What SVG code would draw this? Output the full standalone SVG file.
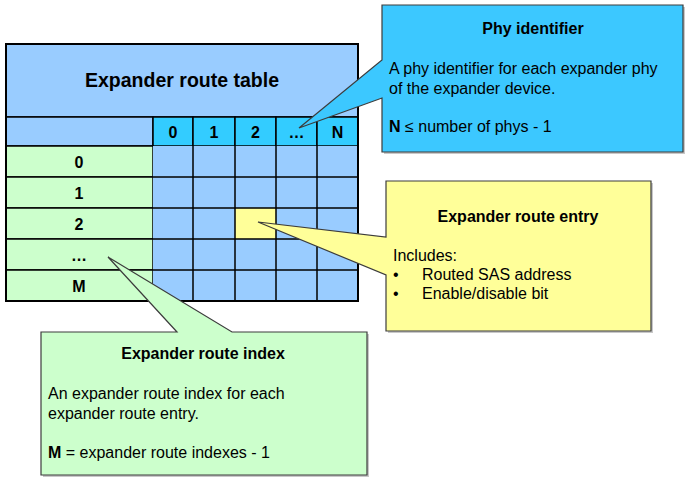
<svg xmlns="http://www.w3.org/2000/svg" width="689" height="479" viewBox="0 0 689 479">
<style>
text{font-family:"Liberation Sans",Arial,sans-serif;fill:#000}
.b{font-weight:bold}
.t{font-size:16px}
.h{font-size:16px;font-weight:bold;text-anchor:middle}
.c{fill:#99CCFF;stroke:#000;stroke-width:1.5}
.g{fill:#CCFFCC;stroke:#000;stroke-width:1.5}
.k{fill:#33CCFF;stroke:#000;stroke-width:1.5}
.call{stroke:#3c3c3c;stroke-width:1.2;stroke-linejoin:miter}
.sh{fill:#c8c8c8}
</style>
<g id="table">
<rect x="6" y="44" width="352" height="73" class="c" stroke-width="2"/>
<text x="182" y="87" class="h" style="font-size:19.5px">Expander route table</text>
<rect x="6" y="117" width="147" height="29" class="c"/>
<g id="header">
<rect x="153" y="117" width="40" height="29" class="k"/>
<rect x="193" y="117" width="42" height="29" class="k"/>
<rect x="235" y="117" width="41" height="29" class="k"/>
<rect x="276" y="117" width="41" height="29" class="k"/>
<rect x="317" y="117" width="41" height="29" class="k"/>
<text x="173" y="138" class="h">0</text>
<text x="214" y="138" class="h">1</text>
<text x="255.5" y="138" class="h">2</text>
<text x="296.5" y="138" class="h">…</text>
<text x="337.5" y="138" class="h">N</text>
</g>
<g id="rows">
<rect x="6" y="146" width="147" height="31" class="g"/>
<rect x="6" y="177" width="147" height="31" class="g"/>
<rect x="6" y="208" width="147" height="31" class="g"/>
<rect x="6" y="239" width="147" height="31" class="g"/>
<rect x="6" y="270" width="147" height="31" class="g"/>
<text x="79" y="168" class="h">0</text>
<text x="79" y="199" class="h">1</text>
<text x="79" y="230" class="h">2</text>
<text x="79" y="261" class="h">…</text>
<text x="79" y="292" class="h">M</text>
</g>
<g id="cells">
<rect x="153" y="146" width="205" height="155" fill="#99CCFF"/>
<rect x="235" y="208" width="41" height="31" fill="#FFFF99"/>
<path d="M153,177H358M153,208H358M153,239H358M153,270H358M193,146V301M235,146V301M276,146V301M317,146V301" stroke="#000" stroke-width="1.5" fill="none"/>
<rect x="6" y="44" width="352" height="257" fill="none" stroke="#000" stroke-width="2"/>
</g>
</g>
<g id="phy-identifier">
<path class="sh" d="M384,7H685V154H384Z"/>
<path class="call" fill="#3CC8FF" d="M382,5H683V152H382V98L299,128L382,60Z"/>
<text x="533" y="34" class="h">Phy identifier</text>
<text x="389" y="74" class="t">A phy identifier for each expander phy</text>
<text x="389" y="94" class="t">of the expander device.</text>
<text x="389" y="132" class="t"><tspan class="b">N</tspan> ≤ number of phys - 1</text>
</g>
<g id="route-entry">
<path class="sh" d="M388,183H653V333H388Z"/>
<path class="call" fill="#FFFF99" d="M386,181H651V331H386V275L258,222L386,237Z"/>
<text x="518" y="222" class="h">Expander route entry</text>
<text x="393" y="261" class="t">Includes:</text>
<text x="393" y="280" class="t">•</text>
<text x="422" y="280" class="t">Routed SAS address</text>
<text x="393" y="299" class="t">•</text>
<text x="422" y="299" class="t">Enable/disable bit</text>
</g>
<g id="route-index">
<path class="sh" d="M43,334H369V477H43Z"/>
<path class="call" fill="#CCFFCC" d="M41,332H177L108,257L232,332H367V475H41Z"/>
<text x="203" y="359" class="h">Expander route index</text>
<text x="48" y="399" class="t">An expander route index for each</text>
<text x="48" y="419" class="t">expander route entry.</text>
<text x="48" y="458" class="t"><tspan class="b">M</tspan> = expander route indexes - 1</text>
</g>
<g id="connectors"></g>
</svg>
